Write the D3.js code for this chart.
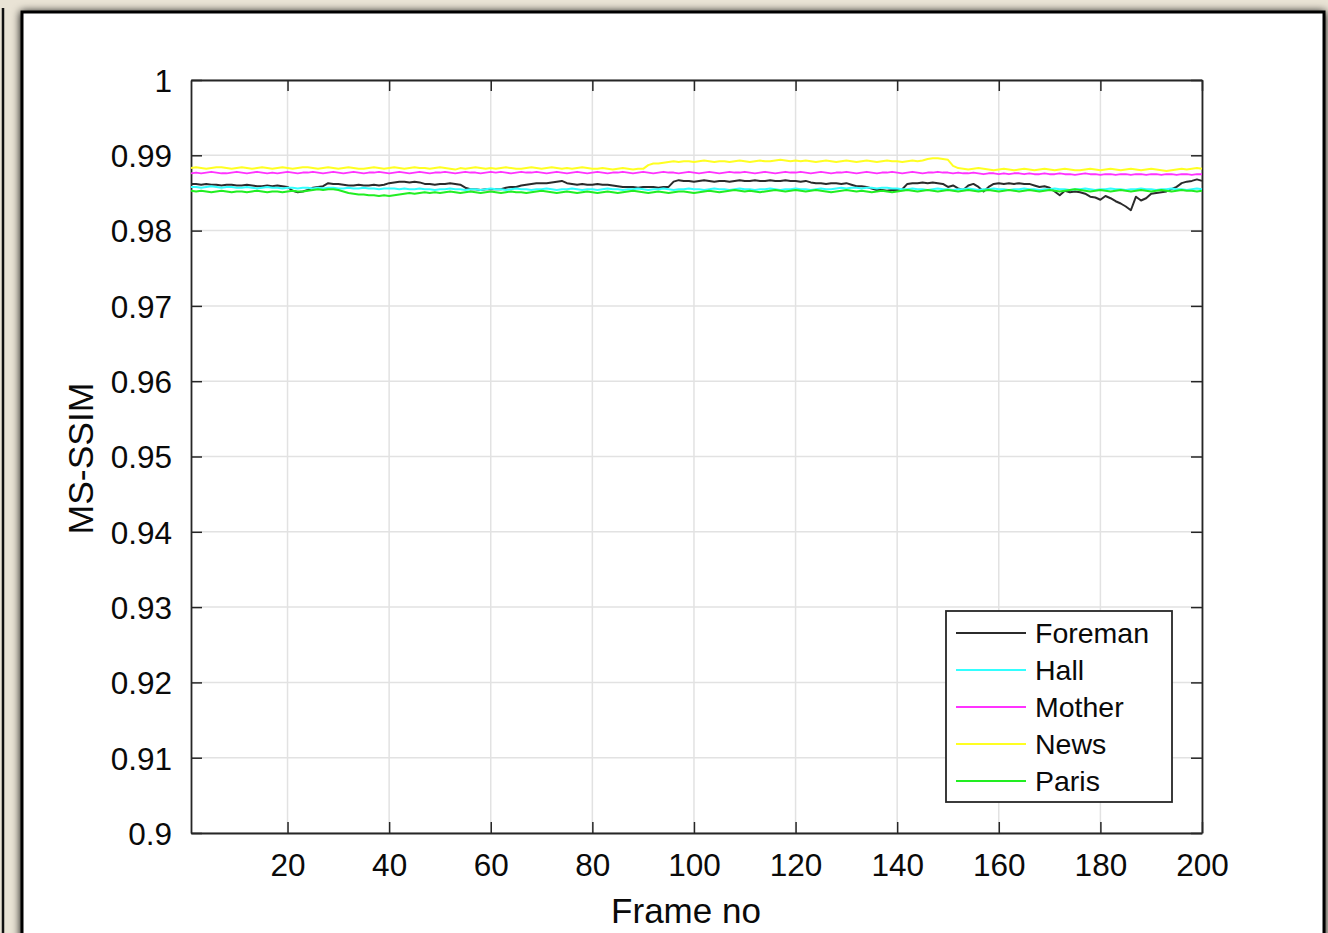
<!DOCTYPE html>
<html>
<head>
<meta charset="utf-8">
<script src="https://cdn.jsdelivr.net/npm/d3@7"></script>
<style>
  html, body { margin: 0; padding: 0; background: #e9e3d5; }
  svg { display: block; }
  text { font-family: "Liberation Sans", Arial, Helvetica, sans-serif; fill: #0a0a0a; }
</style>
</head>
<body>
<div id="chart"></div>
<script>
// MS-SSIM per frame
const seriesNames = ["Foreman", "Hall", "Mother", "News", "Paris"]
const seriesColors = ["#2b2b2b", "#33ffff", "#ff33ff", "#ffff22", "#22ee22"]

const foreman = [
  .9862,.9862,.9861,.9862,.9861,.9861,.9860,.9861,.9861,.9860,
  .9860,.9861,.9860,.9859,.9859,.9860,.9859,.9860,.9859,.9858,
  .9853,.9851,.9852,.9854,.9857,.9858,.9859,.9863,.9862,.9862,
  .9861,.9860,.9860,.9861,.9860,.9860,.9861,.9860,.9861,.9863,
  .9864,.9865,.9865,.9864,.9865,.9864,.9862,.9862,.9861,.9862,
  .9862,.9863,.9862,.9861,.9857,.9855,.9855,.9854,.9855,.9855,
  .9855,.9855,.9857,.9858,.9858,.9860,.9861,.9862,.9863,.9863,
  .9863,.9864,.9865,.9866,.9863,.9862,.9861,.9862,.9861,.9861,
  .9862,.9861,.9861,.9860,.9859,.9858,.9858,.9858,.9857,.9858,
  .9858,.9858,.9857,.9858,.9858,.9865,.9867,.9866,.9866,.9865,
  .9866,.9867,.9866,.9865,.9866,.9866,.9865,.9866,.9867,.9866,
  .9866,.9867,.9866,.9866,.9867,.9866,.9866,.9867,.9866,.9866,
  .9865,.9866,.9864,.9863,.9863,.9862,.9863,.9863,.9862,.9863,
  .9861,.9859,.9859,.9858,.9856,.9854,.9854,.9853,.9854,.9854,
  .9855,.9862,.9863,.9863,.9864,.9863,.9864,.9863,.9862,.9858,
  .9860,.9856,.9854,.9860,.9862,.9858,.9852,.9858,.9862,.9863,
  .9862,.9863,.9862,.9863,.9862,.9862,.9860,.9858,.9859,.9857,
  .9852,.9847,.9853,.9851,.9852,.9851,.9849,.9845,.9844,.9841,
  .9846,.9843,.9839,.9836,.9832,.9827,.9845,.9840,.9843,.9849,
  .9850,.9851,.9852,.9855,.9858,.9863,.9865,.9866,.9868,.9866
]
const hall = [
  .9858,.9858,.9857,.9858,.9859,.9858,.9857,.9858,.9858,.9857,
  .9857,.9858,.9857,.9856,.9857,.9858,.9857,.9857,.9856,.9857,
  .9857,.9856,.9857,.9857,.9856,.9857,.9856,.9857,.9857,.9856,
  .9856,.9857,.9856,.9856,.9857,.9856,.9856,.9855,.9856,.9856,
  .9856,.9855,.9856,.9855,.9855,.9856,.9855,.9855,.9854,.9855,
  .9855,.9856,.9855,.9855,.9854,.9855,.9855,.9854,.9855,.9856,
  .9855,.9855,.9854,.9855,.9856,.9855,.9855,.9854,.9855,.9855,
  .9856,.9855,.9854,.9855,.9855,.9856,.9855,.9854,.9855,.9855,
  .9854,.9855,.9856,.9855,.9855,.9854,.9855,.9855,.9856,.9855,
  .9854,.9855,.9855,.9856,.9855,.9854,.9855,.9855,.9856,.9855,
  .9855,.9854,.9855,.9856,.9855,.9855,.9854,.9855,.9856,.9855,
  .9855,.9854,.9855,.9855,.9856,.9855,.9854,.9855,.9855,.9856,
  .9855,.9855,.9854,.9855,.9856,.9855,.9855,.9856,.9857,.9856,
  .9857,.9857,.9856,.9857,.9857,.9856,.9857,.9857,.9856,.9856,
  .9855,.9855,.9856,.9855,.9855,.9854,.9855,.9856,.9855,.9855,
  .9854,.9855,.9855,.9856,.9855,.9854,.9855,.9855,.9856,.9855,
  .9855,.9854,.9855,.9855,.9856,.9855,.9855,.9854,.9855,.9855,
  .9856,.9855,.9855,.9854,.9855,.9855,.9856,.9855,.9854,.9855,
  .9855,.9856,.9855,.9855,.9854,.9855,.9855,.9856,.9855,.9855,
  .9854,.9855,.9855,.9856,.9855,.9855,.9854,.9855,.9856,.9855
]
const mother = [
  .9876,.9877,.9876,.9877,.9878,.9877,.9876,.9876,.9877,.9878,
  .9877,.9876,.9877,.9878,.9877,.9876,.9877,.9876,.9877,.9878,
  .9877,.9876,.9877,.9877,.9878,.9877,.9876,.9877,.9878,.9877,
  .9876,.9877,.9878,.9877,.9876,.9877,.9877,.9878,.9877,.9876,
  .9877,.9878,.9877,.9876,.9877,.9878,.9877,.9876,.9877,.9877,
  .9878,.9877,.9876,.9877,.9878,.9877,.9877,.9876,.9877,.9878,
  .9877,.9878,.9877,.9876,.9877,.9878,.9877,.9877,.9878,.9877,
  .9876,.9877,.9878,.9877,.9876,.9877,.9878,.9877,.9876,.9877,
  .9878,.9877,.9876,.9877,.9877,.9878,.9877,.9876,.9877,.9878,
  .9877,.9876,.9877,.9878,.9877,.9877,.9876,.9877,.9878,.9877,
  .9876,.9877,.9878,.9877,.9876,.9877,.9878,.9877,.9877,.9878,
  .9877,.9876,.9877,.9878,.9877,.9876,.9877,.9878,.9877,.9877,
  .9878,.9877,.9876,.9877,.9878,.9877,.9876,.9877,.9877,.9878,
  .9877,.9876,.9877,.9878,.9877,.9876,.9877,.9877,.9878,.9877,
  .9876,.9877,.9878,.9877,.9876,.9877,.9877,.9878,.9877,.9877,
  .9876,.9877,.9876,.9876,.9877,.9876,.9875,.9876,.9876,.9875,
  .9876,.9875,.9876,.9876,.9875,.9876,.9875,.9875,.9876,.9875,
  .9875,.9876,.9875,.9875,.9874,.9875,.9876,.9875,.9875,.9874,
  .9875,.9875,.9874,.9875,.9875,.9874,.9875,.9875,.9874,.9875,
  .9875,.9874,.9875,.9875,.9874,.9875,.9875,.9874,.9875,.9875
]
const news = [
  .9883,.9884,.9883,.9882,.9883,.9884,.9884,.9883,.9882,.9883,
  .9884,.9883,.9882,.9883,.9884,.9883,.9882,.9883,.9884,.9883,
  .9882,.9883,.9884,.9884,.9883,.9882,.9883,.9884,.9883,.9882,
  .9883,.9884,.9883,.9882,.9882,.9883,.9884,.9883,.9882,.9883,
  .9884,.9883,.9882,.9883,.9884,.9883,.9883,.9882,.9883,.9884,
  .9883,.9882,.9881,.9883,.9882,.9883,.9884,.9883,.9882,.9883,
  .9882,.9883,.9884,.9883,.9882,.9882,.9883,.9884,.9883,.9882,
  .9883,.9884,.9883,.9882,.9883,.9882,.9883,.9884,.9883,.9882,
  .9882,.9883,.9882,.9881,.9882,.9883,.9882,.9881,.9882,.9882,
  .9887,.9889,.9889,.9890,.9891,.9892,.9891,.9892,.9892,.9891,
  .9892,.9893,.9892,.9891,.9892,.9892,.9891,.9892,.9893,.9892,
  .9891,.9892,.9893,.9892,.9892,.9893,.9894,.9893,.9892,.9893,
  .9892,.9893,.9892,.9891,.9892,.9893,.9892,.9891,.9892,.9893,
  .9892,.9891,.9892,.9893,.9892,.9891,.9892,.9893,.9892,.9892,
  .9891,.9892,.9893,.9892,.9893,.9895,.9896,.9896,.9895,.9894,
  .9886,.9883,.9882,.9881,.9882,.9883,.9882,.9881,.9880,.9881,
  .9882,.9881,.9880,.9881,.9882,.9881,.9880,.9881,.9882,.9881,
  .9880,.9881,.9882,.9881,.9880,.9880,.9881,.9882,.9881,.9880,
  .9881,.9882,.9881,.9880,.9881,.9882,.9881,.9880,.9881,.9882,
  .9881,.9880,.9879,.9880,.9881,.9882,.9881,.9882,.9883,.9882
]
const paris = [
  .9853,.9852,.9853,.9852,.9851,.9852,.9853,.9852,.9851,.9852,
  .9852,.9851,.9852,.9853,.9852,.9851,.9852,.9852,.9851,.9852,
  .9853,.9852,.9852,.9853,.9854,.9855,.9854,.9855,.9855,.9854,
  .9852,.9850,.9849,.9848,.9848,.9847,.9847,.9846,.9847,.9846,
  .9847,.9848,.9849,.9850,.9849,.9850,.9851,.9850,.9851,.9850,
  .9851,.9852,.9851,.9850,.9851,.9852,.9851,.9850,.9851,.9852,
  .9851,.9850,.9851,.9852,.9851,.9851,.9850,.9851,.9852,.9853,
  .9852,.9851,.9850,.9851,.9852,.9851,.9850,.9851,.9852,.9851,
  .9850,.9851,.9852,.9851,.9850,.9851,.9852,.9853,.9852,.9851,
  .9850,.9851,.9852,.9851,.9850,.9851,.9852,.9852,.9851,.9850,
  .9851,.9852,.9853,.9852,.9851,.9852,.9853,.9854,.9853,.9852,
  .9853,.9852,.9851,.9852,.9853,.9854,.9853,.9852,.9853,.9854,
  .9853,.9852,.9853,.9854,.9853,.9852,.9851,.9852,.9853,.9854,
  .9853,.9852,.9853,.9852,.9851,.9852,.9853,.9852,.9851,.9852,
  .9853,.9854,.9853,.9852,.9853,.9854,.9853,.9852,.9853,.9854,
  .9853,.9852,.9853,.9854,.9853,.9852,.9853,.9854,.9853,.9852,
  .9853,.9854,.9853,.9852,.9853,.9854,.9853,.9852,.9853,.9854,
  .9853,.9852,.9853,.9854,.9855,.9854,.9853,.9852,.9853,.9854,
  .9853,.9852,.9853,.9854,.9853,.9852,.9853,.9854,.9853,.9852,
  .9853,.9854,.9853,.9852,.9853,.9854,.9853,.9853,.9852,.9853
]
const seriesValues = [foreman, hall, mother, news, paris]

const xTicks = [20, 40, 60, 80, 100, 120, 140, 160, 180, 200]
const yTicks = [0.9, 0.91, 0.92, 0.93, 0.94, 0.95, 0.96, 0.97, 0.98, 0.99, 1]

const W = 1328, H = 933
const plot = { left: 191, top: 80, right: 1202, bottom: 833 }

const svg = d3.select("#chart").append("svg")
    .attr("width", W)
    .attr("height", H)

// paper background + panel
const defs = svg.append("defs")
const shadow = defs.append("filter").attr("id", "shadow")
    .attr("x", "-5%").attr("y", "-5%").attr("width", "110%").attr("height", "110%")
shadow.append("feGaussianBlur").attr("in", "SourceAlpha").attr("stdDeviation", 4)
shadow.append("feOffset").attr("dx", 0).attr("dy", 1).attr("result", "b")
const merge = shadow.append("feMerge")
merge.append("feMergeNode").attr("in", "b")
merge.append("feMergeNode").attr("in", "SourceGraphic")

svg.append("rect").attr("width", W).attr("height", H).attr("fill", "#e9e3d5")

// edge of the neighbouring panel on the left
svg.append("line")
    .attr("x1", 3).attr("x2", 3).attr("y1", 8).attr("y2", H)
    .attr("stroke", "#111").attr("stroke-width", 2.5)

svg.append("rect")
    .attr("x", 22).attr("y", 12)
    .attr("width", 1302).attr("height", H)
    .attr("fill", "#fff")
    .attr("stroke", "#000")
    .attr("stroke-width", 3)
    .attr("filter", "url(#shadow)")

const x = d3.scaleLinear().domain([1, 200]).range([plot.left, plot.right])
const y = d3.scaleLinear().domain([0.9, 1]).range([plot.bottom, plot.top])

const g = svg.append("g")

// grid
g.append("g").selectAll("line").data(xTicks).join("line")
    .attr("x1", d => x(d)).attr("x2", d => x(d))
    .attr("y1", plot.top).attr("y2", plot.bottom)
    .attr("stroke", "#e2e2e2").attr("stroke-width", 1.5)
g.append("g").selectAll("line").data(yTicks).join("line")
    .attr("x1", plot.left).attr("x2", plot.right)
    .attr("y1", d => y(d)).attr("y2", d => y(d))
    .attr("stroke", "#e2e2e2").attr("stroke-width", 1.5)

// axes (ticks pointing inward, on all four sides like matlab)
const tickLen = 11
const fmtY = d => d === 1 ? "1" : d === 0.9 ? "0.9" : d3.format(".2f")(d)

const axB = g.append("g").attr("transform", `translate(0,${plot.bottom})`)
    .call(d3.axisBottom(x).tickValues(xTicks).tickSizeInner(-tickLen).tickSizeOuter(0).tickPadding(21))
const axT = g.append("g").attr("transform", `translate(0,${plot.top})`)
    .call(d3.axisTop(x).tickValues(xTicks).tickSizeInner(-tickLen).tickSizeOuter(0).tickFormat(""))
const axL = g.append("g").attr("transform", `translate(${plot.left},0)`)
    .call(d3.axisLeft(y).tickValues(yTicks).tickSizeInner(-tickLen).tickSizeOuter(0).tickPadding(19).tickFormat(fmtY))
const axR = g.append("g").attr("transform", `translate(${plot.right},0)`)
    .call(d3.axisRight(y).tickValues(yTicks).tickSizeInner(-tickLen).tickSizeOuter(0).tickFormat(""))

for (const ax of [axB, axT, axL, axR]) {
    ax.select(".domain").attr("stroke", "#262626").attr("stroke-width", 1.8)
    ax.selectAll(".tick line").attr("stroke", "#262626").attr("stroke-width", 1.5)
    ax.selectAll(".tick text")
        .attr("fill", "#0a0a0a")
        .style("font-family", "'Liberation Sans', Arial, sans-serif")
        .style("font-size", "31.5px")
}
axB.selectAll(".tick text").attr("dy", "0.71em")
axL.selectAll(".tick text").attr("dy", "0.36em")

// lines
const line = d3.line()
    .x((d, i) => x(i + 1))
    .y(d => y(d))

g.append("g").selectAll("path").data(seriesValues).join("path")
    .attr("d", line)
    .attr("fill", "none")
    .attr("stroke", (d, i) => seriesColors[i])
    .attr("stroke-width", 2)
    .attr("stroke-linejoin", "round")

// axis titles
svg.append("text")
    .attr("x", 686)
    .attr("y", 923)
    .attr("text-anchor", "middle")
    .style("font-size", "35px")
    .text("Frame no")

svg.append("text")
    .attr("transform", `translate(93,${(plot.top + plot.bottom) / 2 + 2}) rotate(-90)`)
    .attr("text-anchor", "middle")
    .style("font-size", "35.5px")
    .text("MS-SSIM")

// legend
const legend = svg.append("g").attr("transform", "translate(946,611)")
legend.append("rect")
    .attr("width", 226).attr("height", 191)
    .attr("fill", "#fff")
    .attr("stroke", "#262626").attr("stroke-width", 1.8)

const item = legend.selectAll("g.item").data(seriesNames).join("g")
    .attr("class", "item")
    .attr("transform", (d, i) => `translate(0,${22 + i * 37})`)
item.append("line")
    .attr("x1", 10).attr("x2", 80)
    .attr("stroke", (d, i) => seriesColors[i])
    .attr("stroke-width", 2)
item.append("text")
    .attr("x", 89)
    .attr("dy", "0.36em")
    .style("font-size", "28.5px")
    .text(d => d)
</script>
</body>
</html>
